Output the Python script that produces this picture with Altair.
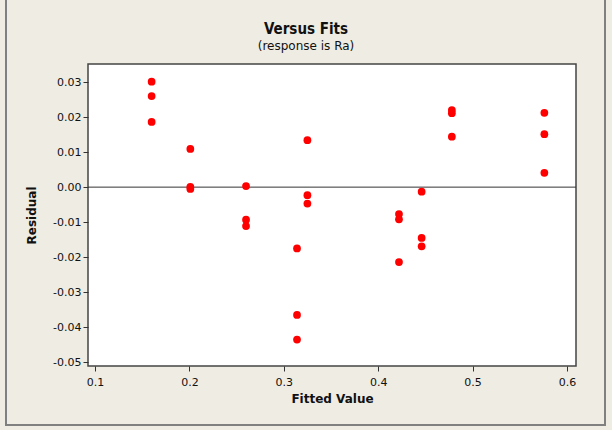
import altair as alt
import pandas as pd

fitted = [0.160, 0.160, 0.160,
          0.201, 0.201, 0.201,
          0.260, 0.260, 0.260,
          0.314, 0.314, 0.314,
          0.325, 0.325, 0.325,
          0.422, 0.422, 0.422,
          0.446, 0.446, 0.446,
          0.478, 0.478, 0.478,
          0.576, 0.576, 0.576]
residual = [0.0301, 0.0260, 0.0186,
            0.0109, 0.0001, -0.0005,
            0.0003, -0.0093, -0.0111,
            -0.0175, -0.0365, -0.0435,
            0.0134, -0.0023, -0.0047,
            -0.0077, -0.0092, -0.0214,
            -0.0013, -0.0145, -0.0169,
            0.0220, 0.0211, 0.0144,
            0.0212, 0.0151, 0.0041]

x_ticks = [0.1, 0.2, 0.3, 0.4, 0.5, 0.6]
y_ticks = [0.03, 0.02, 0.01, 0.0, -0.01, -0.02, -0.03, -0.04, -0.05]

title_text = "Versus Fits"
subtitle_text = "(response is Ra)"

df = pd.DataFrame({"Fitted": fitted, "Residual": residual})

BG = "#EFECE3"
FONT = "DejaVu Sans"

xscale = alt.Scale(domain=[0.0926, 0.6095], nice=False, zero=False)
yscale = alt.Scale(domain=[-0.05106, 0.03515], nice=False, zero=False)

points = alt.Chart(df).mark_circle(size=60, color="#FF0000", opacity=1).encode(
    x=alt.X("Fitted:Q", scale=xscale,
            axis=alt.Axis(title="Fitted Value", values=x_ticks, tickCount=30,
                          labelExpr="replace(format(datum.value, '.1f'), '\u2212', '-')",
                          labelOverlap=False,
                          grid=False, domain=False, tickColor="#333333",
                          tickSize=5, labelFont=FONT, labelFontSize=11,
                          labelColor="#111111", labelPadding=5,
                          titleFont=FONT, titleFontSize=12, titleFontWeight="bold",
                          titleColor="#111111", titlePadding=6)),
    y=alt.Y("Residual:Q", scale=yscale,
            axis=alt.Axis(title="Residual", values=y_ticks, tickCount=30,
                          labelExpr="replace(format(datum.value, '.2f'), '\u2212', '-')",
                          labelOverlap=False,
                          grid=False, domain=False, tickColor="#333333",
                          tickSize=5, labelFont=FONT, labelFontSize=11,
                          labelColor="#111111", labelPadding=2,
                          titleFont=FONT, titleFontSize=12, titleFontWeight="bold",
                          titleColor="#111111", titlePadding=14)),
)

zero_df = pd.DataFrame({"y": [0.0]})
zero_line = alt.Chart(zero_df).mark_rule(color="#333333", strokeWidth=1).encode(
    y=alt.Y("y:Q", scale=yscale)
)

frame = alt.Chart(zero_df).mark_rect(
    fill=None, stroke="#808080", strokeWidth=2, clip=False
).encode(
    x=alt.value(-82), x2=alt.value(517),
    y=alt.value(-70), y2=alt.value(361),
)

title_mark = alt.Chart(pd.DataFrame({"t": [title_text]})).mark_text(
    font="DejaVu Sans Condensed", fontSize=15, fontWeight="bold", color="#111111",
    align="center", baseline="alphabetic"
).encode(text="t:N", x=alt.value(218), y=alt.value(-30))

subtitle_mark = alt.Chart(pd.DataFrame({"t": [subtitle_text]})).mark_text(
    font=FONT, fontSize=12, color="#111111",
    align="center", baseline="alphabetic"
).encode(text="t:N", x=alt.value(218), y=alt.value(-14))

chart = alt.layer(frame, zero_line, points, title_mark, subtitle_mark).properties(
    width=488, height=302,
    background=BG,
    padding={"left": 88, "top": 64, "right": 36, "bottom": 64},
    autosize=alt.AutoSizeParams(type="none"),
).configure_view(
    fill="white", stroke="#444444", strokeWidth=1.5
)

chart.save("out.html", embed_options={"renderer": "svg", "actions": False})
